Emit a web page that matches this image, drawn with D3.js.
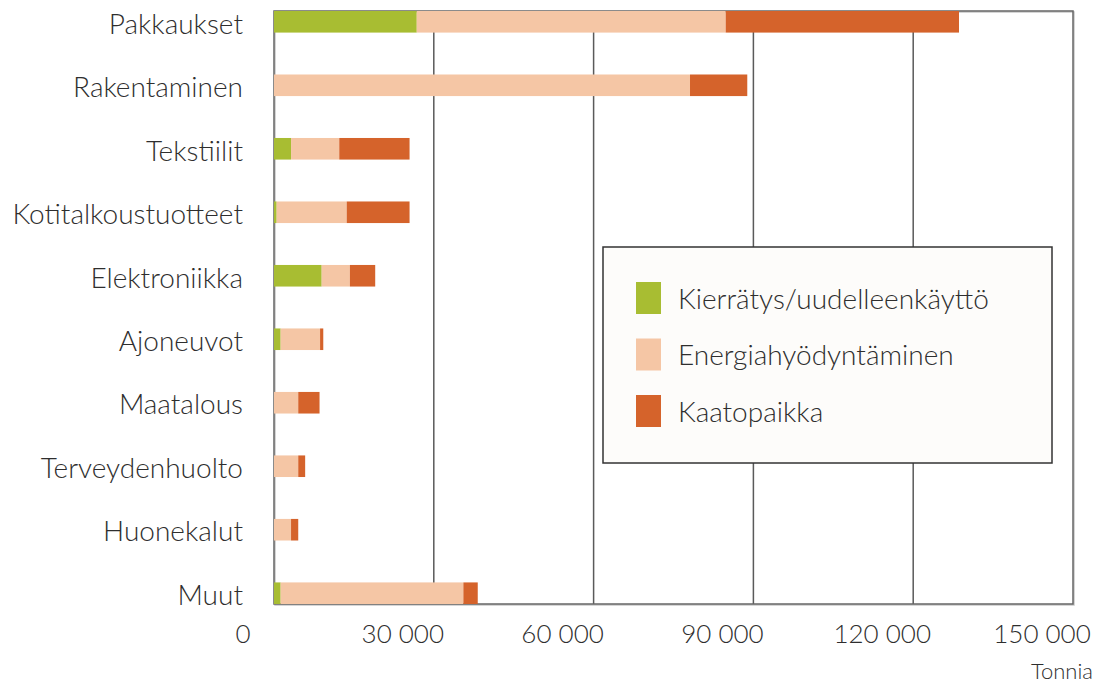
<!DOCTYPE html>
<html>
<head>
<meta charset="utf-8">
<script src="https://cdn.jsdelivr.net/npm/d3@7"></script>
<style>
  html, body { margin: 0; padding: 0; background: #ffffff; }
  svg { display: block; font-family: Lato, "Open Sans", sans-serif; font-weight: 300; }
</style>
</head>
<body>
<svg id="chart" width="1096" height="684"></svg>
<script>
// Sectors, top to bottom
const categories = ["Pakkaukset", "Rakentaminen", "Tekstiilit", "Kotitalkoustuotteet", "Elektroniikka",
                    "Ajoneuvot", "Maatalous", "Terveydenhuolto", "Huonekalut", "Muut"];
// Tonnes per sector and treatment route
const recycling = [26800, 0, 3200, 500, 8950, 1250, 0, 0, 0, 1250];
const energy    = [58000, 78100, 9050, 13150, 5300, 7400, 4550, 4550, 3200, 34300];
const landfill  = [43800, 10750, 13200, 11800, 4750, 600, 4000, 1300, 1350, 2700];
const seriesNames = ["Kierrätys/uudelleenkäyttö", "Energiahyödyntäminen", "Kaatopaikka"];
const tickValues = [0, 30000, 60000, 90000, 120000, 150000];
const unitLabel = "Tonnia";

const colors = ["#a8bd32", "#f5c6a5", "#d5632b"];
const seriesKeys = ["recycling", "energy", "landfill"];

const rows = categories.map((c, i) => ({
  category: c, recycling: recycling[i], energy: energy[i], landfill: landfill[i]
}));

const svg = d3.select("#chart");
const plot = { left: 274, right: 1073, top: 11, bottom: 604 };

const x = d3.scaleLinear().domain([0, 150000]).range([plot.left, plot.right]);
const y = d3.scaleBand().domain(categories).range([plot.top, plot.bottom])
  .paddingInner(0.66).paddingOuter(0);

const fmt = d3.formatLocale({ decimal: ",", thousands: " ", grouping: [3], currency: ["", " €"] }).format(",d");

// Vertical gridlines
svg.append("g")
  .selectAll("line")
  .data(tickValues.slice(1, -1))
  .join("line")
  .attr("x1", d => x(d)).attr("x2", d => x(d))
  .attr("y1", plot.top).attr("y2", plot.bottom)
  .attr("stroke", "#5a5a5a").attr("stroke-width", 1.5);

// Plot frame with a faint shadow
svg.append("rect")
  .attr("x", plot.left + 1).attr("y", plot.top + 1)
  .attr("width", plot.right - plot.left).attr("height", plot.bottom - plot.top)
  .attr("fill", "none").attr("stroke", "#c8c8c8").attr("stroke-width", 1.5);
svg.append("rect")
  .attr("x", plot.left).attr("y", plot.top)
  .attr("width", plot.right - plot.left).attr("height", plot.bottom - plot.top)
  .attr("fill", "none").attr("stroke", "#666").attr("stroke-width", 1.5);

// Stacked bars
const stacked = d3.stack().keys(seriesKeys)(rows);
svg.append("g")
  .selectAll("g")
  .data(stacked)
  .join("g")
  .attr("fill", (d, i) => colors[i])
  .selectAll("rect")
  .data(d => d)
  .join("rect")
  .attr("x", d => x(d[0]))
  .attr("width", d => x(d[1]) - x(d[0]))
  .attr("y", d => y(d.data.category))
  .attr("height", y.bandwidth());

// Category labels
svg.append("g")
  .selectAll("text")
  .data(categories)
  .join("text")
  .attr("x", plot.left - 31)
  .attr("y", d => y(d) + y.bandwidth() / 2)
  .attr("dy", "0.42em")
  .attr("text-anchor", "end")
  .attr("font-size", 28)
  .attr("fill", "#2e2e2e")
  .text(d => d);

// X axis tick labels
svg.append("g")
  .selectAll("text")
  .data(tickValues)
  .join("text")
  .attr("x", d => x(d))
  .attr("dx", -31)
  .attr("y", 643)
  .attr("text-anchor", "middle")
  .attr("font-size", 26)
  .attr("fill", "#2e2e2e")
  .text(d => fmt(d));

svg.append("text")
  .attr("x", 1093).attr("y", 679)
  .attr("text-anchor", "end")
  .attr("font-size", 22)
  .attr("fill", "#2e2e2e")
  .text(unitLabel);

// Legend
const legend = svg.append("g").attr("transform", "translate(603,247)");
legend.append("rect")
  .attr("width", 449).attr("height", 216)
  .attr("fill", "#fdfcfa").attr("stroke", "#333").attr("stroke-width", 1.5);
const items = legend.selectAll("g.item")
  .data(seriesNames)
  .join("g")
  .attr("class", "item")
  .attr("transform", (d, i) => `translate(33,${35 + i * 56.5})`);
items.append("rect")
  .attr("width", 25).attr("height", 32)
  .attr("fill", (d, i) => colors[i]);
items.append("text")
  .attr("x", 42).attr("y", 16).attr("dy", "0.38em")
  .attr("font-size", 28)
  .attr("fill", "#2e2e2e")
  .text(d => d);
</script>
</body>
</html>
